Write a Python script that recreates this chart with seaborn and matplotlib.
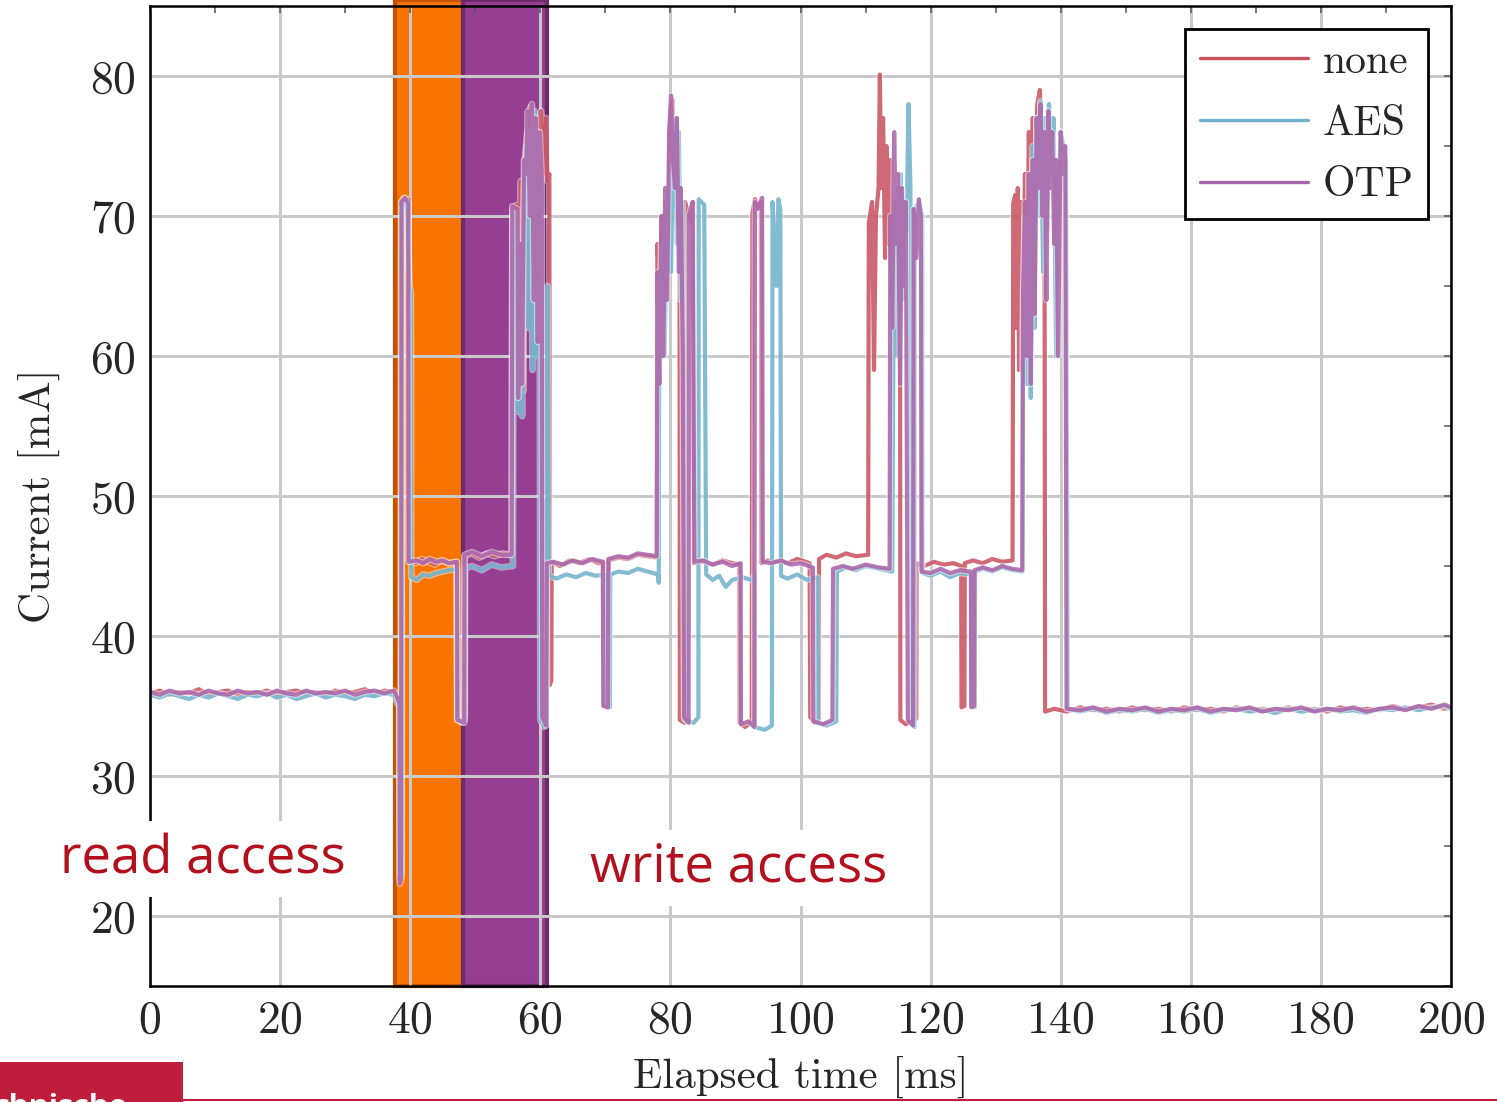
import matplotlib
matplotlib.use("Agg")
import matplotlib.pyplot as plt
import matplotlib.patheffects as pe
from matplotlib.patches import Rectangle
from matplotlib.lines import Line2D
from matplotlib.ticker import MultipleLocator
import pandas as pd
import seaborn as sns

# ---------------- data (time in ms, current in mA) ----------------
series_names = ["none", "AES", "OTP"]

none_trace = [
    (0, 35.9), (1.5, 36.1), (3, 35.8), (4.5, 36.0), (6, 35.9), (7.5, 36.2), (9, 35.8), (10.5, 36.0),
    (12, 36.1), (13.5, 35.8), (15, 36.0), (16.5, 35.9), (18, 36.1), (19.5, 35.8), (21, 36.0), (22.5, 36.1),
    (24, 35.9), (25.5, 36.0), (27, 35.8), (28.5, 36.1), (30, 35.9), (31.5, 36.0), (33, 36.2), (34.5, 35.9),
    (36, 36.1), (37.5, 36.0), (38.0, 35.4), (38.3, 35.1), (38.35, 22.6), (38.6, 23.2), (38.65, 71.0),
    (39.0, 71.3), (39.4, 70.8), (39.75, 71.2), (39.8, 45.4), (40.8, 45.2), (41.8, 45.5), (42.8, 45.3),
    (43.8, 45.1), (44.8, 45.4), (45.8, 45.2), (47.1, 45.3), (47.2, 34.0), (47.8, 33.9), (48.3, 34.3),
    (48.35, 45.7), (49.4, 45.9), (50.6, 45.6), (51.8, 45.9), (53.0, 45.7), (54.2, 45.9), (55.6, 45.8),
    (55.7, 70.6), (56.4, 70.8), (56.5, 58.0), (56.8, 60.5), (57.0, 72.5), (57.4, 57.5), (57.6, 74.0),
    (58.0, 76.0), (58.3, 71.0), (58.5, 77.8), (58.8, 65.0), (59.0, 76.5), (59.3, 62.0), (59.5, 77.0),
    (59.9, 72.0), (60.1, 77.5), (60.5, 73.0), (60.9, 77.0), (61.1, 72.5), (61.4, 73.0), (61.45, 36.5),
    (61.7, 36.8), (61.75, 45.3), (63.0, 45.0), (64.5, 45.4), (66.0, 45.2), (67.5, 45.5), (69.0, 45.2),
    (69.7, 45.3), (69.75, 35.0), (70.5, 35.2), (70.55, 45.4), (72.0, 45.6), (73.5, 45.5), (75.0, 45.8),
    (76.5, 45.7), (77.9, 45.6), (78.0, 68.0), (78.4, 64.0), (78.7, 70.0), (79.0, 61.0), (79.3, 71.0),
    (79.6, 66.0), (80.0, 77.0), (80.3, 78.3), (80.6, 73.0), (80.9, 77.0), (81.2, 71.0), (81.4, 72.0),
    (81.45, 34.0), (82.2, 33.8), (82.25, 71.0), (82.9, 70.0), (83.2, 69.5), (83.5, 71.0), (83.6, 45.2),
    (85.0, 45.3), (86.5, 45.1), (88.0, 45.4), (89.5, 45.2), (90.6, 45.1), (90.65, 33.8), (91.5, 33.5),
    (92.5, 33.9), (92.6, 70.2), (93.0, 71.2), (93.5, 70.6), (93.9, 71.0), (94.0, 45.2), (95.0, 45.4),
    (96.5, 45.3), (98.0, 45.2), (99.5, 45.5), (101.4, 45.2), (101.5, 34.2), (102.2, 33.8), (102.8, 34.0),
    (102.85, 45.5), (104.0, 45.8), (105.5, 45.6), (107.0, 45.9), (108.5, 45.7), (110.4, 45.8),
    (110.5, 69.5), (111.0, 71.0), (111.3, 59.0), (111.6, 70.0), (112.0, 72.0), (112.2, 80.1), (112.4, 72.0),
    (112.7, 77.0), (113.0, 67.0), (113.2, 75.0), (113.5, 68.0), (113.8, 74.0), (114.1, 63.0), (114.4, 70.0),
    (114.8, 60.0), (115.1, 72.0), (115.3, 70.0), (115.35, 34.0), (116.2, 33.7), (117.0, 33.9), (117.8, 34.1),
    (117.85, 45.2), (119.0, 45.0), (120.5, 45.3), (122.0, 45.1), (123.5, 45.2), (124.7, 45.0), (124.75, 34.9),
    (125.2, 35.0), (125.25, 45.2), (126.5, 45.4), (128.0, 45.2), (129.5, 45.5), (131.0, 45.3), (132.6, 45.4),
    (132.7, 70.9), (133.0, 71.5), (133.2, 62.0), (133.4, 72.0), (133.6, 59.0), (133.9, 71.0), (134.2, 60.0),
    (134.5, 73.0), (134.8, 62.0), (135.1, 76.0), (135.4, 67.0), (135.7, 77.0), (136.0, 70.0), (136.4, 78.0),
    (136.8, 79.0), (137.1, 72.0), (137.5, 76.0), (137.6, 34.6), (139.0, 34.8), (141.0, 34.6), (143.0, 34.9),
    (145.0, 34.7), (147.0, 34.8), (149.0, 34.6), (151.0, 34.9), (153.0, 34.7), (155.0, 34.8), (157.0, 34.6),
    (159.0, 34.9), (161.0, 34.7), (163.0, 34.8), (165.0, 34.6), (167.0, 34.9), (169.0, 34.7), (171.0, 34.8),
    (173.0, 34.6), (175.0, 34.9), (177.0, 34.7), (179.0, 34.8), (181.0, 34.6), (183.0, 34.9), (185.0, 34.7),
    (187.0, 34.8), (189.0, 34.7), (191.0, 35.0), (193.0, 34.8), (195.0, 34.9), (197.0, 35.1), (199.0, 34.8),
    (200.0, 34.9),
]

aes_trace = [
    (0, 35.8), (1.5, 35.6), (3, 35.9), (4.5, 35.7), (6, 35.5), (7.5, 35.8), (9, 35.6), (10.5, 35.9),
    (12, 35.7), (13.5, 35.5), (15, 35.8), (16.5, 35.7), (18, 35.9), (19.5, 35.6), (21, 35.8), (22.5, 35.5),
    (24, 35.7), (25.5, 35.9), (27, 35.6), (28.5, 35.8), (30, 35.7), (31.5, 35.5), (33, 35.8), (34.5, 35.7),
    (36, 35.9), (37.5, 35.8), (38.0, 35.2), (38.4, 35.0), (38.45, 23.0), (38.7, 22.8), (38.75, 70.5),
    (39.1, 71.2), (39.5, 70.8), (39.9, 65.0), (40.1, 64.5), (40.15, 44.2), (41.0, 44.0), (42.0, 44.4),
    (43.0, 44.3), (44.0, 44.5), (45.0, 44.6), (46.0, 44.7), (47.2, 44.8), (47.3, 34.1), (48.0, 33.8),
    (48.4, 34.0), (48.45, 44.8), (49.5, 45.0), (51.0, 44.7), (52.5, 45.1), (54.0, 44.9), (55.8, 45.0),
    (55.9, 70.2), (56.3, 68.0), (56.6, 56.0), (56.9, 67.0), (57.2, 55.7), (57.5, 72.0), (57.9, 75.0),
    (58.2, 62.0), (58.5, 76.0), (58.8, 59.0), (59.1, 77.5), (59.4, 60.0), (59.7, 76.0), (59.9, 66.0),
    (60.0, 34.0), (60.6, 33.5), (61.0, 33.8), (61.1, 65.0), (61.3, 44.3), (62.5, 44.1), (64.0, 44.4),
    (65.5, 44.2), (67.0, 44.5), (68.5, 44.3), (70.0, 44.4), (70.05, 35.0), (70.7, 34.9), (70.75, 44.4),
    (72.0, 44.6), (73.5, 44.5), (75.0, 44.8), (76.5, 44.6), (78.1, 44.4), (78.2, 43.8), (78.3, 62.0),
    (78.7, 68.0), (79.1, 60.0), (79.5, 70.0), (79.8, 72.0), (80.1, 66.0), (80.4, 75.0), (80.7, 77.0),
    (81.0, 68.0), (81.3, 76.0), (81.6, 64.0), (81.9, 71.0), (82.2, 34.0), (83.6, 33.8), (84.3, 34.2),
    (84.35, 71.2), (85.2, 70.8), (85.5, 44.4), (86.5, 44.0), (87.5, 44.3), (88.5, 43.5), (89.5, 44.0),
    (91.0, 44.2), (92.5, 44.0), (92.9, 44.3), (93.0, 33.5), (94.5, 33.3), (95.6, 33.6), (95.7, 71.0),
    (96.3, 65.0), (96.6, 71.2), (96.9, 70.5), (97.0, 44.3), (98.0, 44.1), (99.5, 44.4), (101.0, 44.0),
    (102.6, 44.2), (102.7, 33.8), (104.0, 33.6), (105.5, 33.9), (105.6, 44.6), (107.0, 44.9), (108.5, 44.7),
    (110.0, 45.0), (112.0, 44.8), (114.1, 44.6), (114.3, 62.0), (114.6, 71.0), (115.0, 60.0), (115.4, 73.0),
    (115.7, 64.0), (116.0, 71.0), (116.3, 69.0), (116.6, 78.0), (116.9, 72.0), (117.1, 34.0), (117.5, 33.5),
    (117.55, 70.5), (118.2, 71.0), (118.7, 70.0), (118.75, 44.5), (120.0, 44.3), (121.5, 44.6), (123.0, 44.2),
    (124.5, 44.5), (126.2, 44.4), (126.3, 35.0), (126.8, 34.9), (126.85, 44.6), (128.0, 44.8), (129.5, 44.6),
    (131.0, 44.9), (132.5, 44.7), (134.1, 44.6), (134.2, 62.0), (134.5, 70.0), (134.8, 58.0), (135.1, 68.0),
    (135.4, 57.0), (135.7, 75.0), (136.0, 62.0), (136.3, 77.0), (136.6, 70.0), (136.9, 78.2), (137.3, 66.0),
    (137.6, 77.0), (137.9, 69.0), (138.2, 78.0), (138.6, 73.0), (138.9, 77.0), (139.3, 60.0), (139.6, 72.0),
    (140.0, 76.0), (140.4, 75.0), (140.8, 74.0), (141.1, 34.8), (143.0, 34.6), (145.0, 34.8), (147.0, 34.5),
    (149.0, 34.7), (151.0, 34.6), (153.0, 34.8), (155.0, 34.5), (157.0, 34.7), (159.0, 34.6), (161.0, 34.8),
    (163.0, 34.5), (165.0, 34.7), (167.0, 34.8), (169.0, 34.6), (171.0, 34.7), (173.0, 34.5), (175.0, 34.8),
    (177.0, 34.6), (179.0, 34.7), (181.0, 34.8), (183.0, 34.6), (185.0, 34.7), (187.0, 34.5), (189.0, 34.8),
    (191.0, 34.7), (193.0, 34.9), (195.0, 34.7), (197.0, 34.9), (199.0, 35.0), (200.0, 34.8),
]

otp_trace = [
    (0, 36.0), (1.5, 35.8), (3, 36.1), (4.5, 35.9), (6, 36.0), (7.5, 35.8), (9, 36.1), (10.5, 35.9),
    (12, 35.8), (13.5, 36.1), (15, 35.9), (16.5, 36.0), (18, 35.8), (19.5, 36.1), (21, 35.9), (22.5, 35.8),
    (24, 36.1), (25.5, 35.9), (27, 36.0), (28.5, 35.9), (30, 36.1), (31.5, 35.8), (33, 36.0), (34.5, 36.1),
    (36, 35.9), (37.5, 36.1), (38.0, 35.6), (38.35, 35.2), (38.4, 22.3), (38.6, 22.6), (38.65, 71.0),
    (39.2, 71.3), (39.7, 70.9), (39.75, 45.3), (41.0, 45.4), (42.0, 45.2), (43.0, 45.5), (44.0, 45.3),
    (45.0, 45.4), (46.0, 45.2), (47.2, 45.3), (47.25, 34.0), (48.3, 33.8), (48.35, 45.8), (49.5, 46.0),
    (51.0, 45.7), (52.5, 46.0), (54.0, 45.8), (55.6, 45.8), (55.7, 70.7), (56.5, 70.5), (56.6, 57.0),
    (56.9, 68.0), (57.2, 58.0), (57.5, 74.0), (57.8, 73.0), (58.1, 77.5), (58.4, 70.0), (58.7, 78.0),
    (59.0, 64.0), (59.3, 77.0), (59.6, 61.0), (59.9, 76.0), (60.2, 73.0), (60.3, 34.2), (60.9, 33.6),
    (61.0, 45.2), (62.0, 45.3), (63.5, 45.1), (65.0, 45.4), (66.5, 45.2), (68.0, 45.5), (69.6, 45.3),
    (69.7, 35.0), (70.4, 34.9), (70.45, 45.5), (72.0, 45.7), (73.5, 45.6), (75.0, 45.9), (76.5, 45.8),
    (77.9, 45.7), (78.0, 66.0), (78.3, 58.0), (78.6, 70.0), (78.9, 60.0), (79.2, 72.0), (79.5, 64.0),
    (79.8, 76.0), (80.1, 78.6), (80.4, 74.0), (80.7, 72.0), (81.0, 77.0), (81.3, 66.0), (81.6, 72.0),
    (81.9, 60.0), (82.1, 34.2), (82.8, 33.8), (82.85, 70.0), (83.4, 71.0), (83.7, 45.3), (85.0, 45.4),
    (86.5, 45.1), (88.0, 45.3), (89.5, 45.0), (90.8, 45.2), (90.85, 33.7), (92.0, 33.9), (92.9, 33.5),
    (93.0, 71.0), (93.4, 70.5), (94.1, 71.3), (94.2, 45.3), (95.5, 45.2), (97.0, 45.4), (98.5, 45.1),
    (100.0, 45.2), (101.9, 44.9), (102.0, 33.9), (103.5, 33.7), (104.9, 34.0), (105.0, 44.8), (106.5, 45.0),
    (108.0, 44.8), (110.0, 45.1), (112.0, 44.9), (113.7, 44.8), (113.8, 70.0), (114.1, 62.0), (114.4, 76.0),
    (114.7, 68.0), (115.0, 73.0), (115.3, 58.0), (115.6, 72.0), (115.9, 65.0), (116.2, 71.0), (116.5, 34.0),
    (117.3, 33.6), (117.4, 70.5), (117.8, 67.0), (118.2, 71.2), (118.5, 70.0), (118.6, 44.6), (120.0, 44.5),
    (121.5, 44.8), (123.0, 44.5), (124.5, 44.7), (126.2, 44.6), (126.25, 34.9), (126.7, 35.0), (126.75, 44.7),
    (128.0, 44.9), (129.5, 44.7), (131.0, 45.0), (132.5, 44.8), (134.1, 44.7), (134.2, 64.0), (134.5, 71.0),
    (134.8, 60.0), (135.1, 73.0), (135.4, 58.0), (135.7, 74.0), (136.0, 63.0), (136.3, 77.0), (136.6, 72.0),
    (136.9, 78.0), (137.2, 70.0), (137.5, 76.0), (137.8, 64.0), (138.1, 77.5), (138.4, 72.0), (138.7, 76.0),
    (139.0, 68.0), (139.3, 74.0), (139.6, 60.0), (140.0, 76.0), (140.4, 73.0), (140.7, 75.0), (140.9, 34.8),
    (143.0, 34.7), (145.0, 34.9), (147.0, 34.6), (149.0, 34.8), (151.0, 34.7), (153.0, 34.9), (155.0, 34.6),
    (157.0, 34.8), (159.0, 34.7), (161.0, 34.9), (163.0, 34.6), (165.0, 34.8), (167.0, 34.7), (169.0, 34.9),
    (171.0, 34.6), (173.0, 34.8), (175.0, 34.7), (177.0, 34.9), (179.0, 34.6), (181.0, 34.8), (183.0, 34.7),
    (185.0, 34.9), (187.0, 34.6), (189.0, 34.8), (191.0, 34.9), (193.0, 34.7), (195.0, 35.0), (197.0, 34.8),
    (199.0, 35.1), (200.0, 34.9),
]

read_band = (37.6, 48.1)
write_band = (48.1, 61.0)
x_ticks = [0, 20, 40, 60, 80, 100, 120, 140, 160, 180, 200]
y_ticks = [20, 30, 40, 50, 60, 70, 80]

# ---------------- styling ----------------
sns.set_theme(style="white")
plt.rcParams["font.family"] = ["cmr10", "DejaVu Serif"]
plt.rcParams["axes.formatter.use_mathtext"] = True
plt.rcParams["axes.unicode_minus"] = False

palette = {"none": "#c8505f", "AES": "#6fb1cb", "OTP": "#a862a8"}

frames = []
for name, trace in zip(series_names, [none_trace, aes_trace, otp_trace]):
    t, v = zip(*trace)
    frames.append(pd.DataFrame({"t": t, "I": v, "series": name}))
df = pd.concat(frames, ignore_index=True)

fig = plt.figure(figsize=(14.97, 11.02), dpi=100)
ax = fig.add_axes([150 / 1497, 1 - 986 / 1102, 1301 / 1497, 980 / 1102])

# bands
ax.axvspan(*read_band, ymin=0, ymax=1.006, facecolor="#f97300", edgecolor="#c25300",
           lw=3.0, zorder=0.2, clip_on=False)
ax.axvspan(*write_band, ymin=0, ymax=1.006, facecolor="#963e91", edgecolor="#6e2b6a",
           lw=3.0, zorder=0.2, clip_on=False)

sns.lineplot(data=df, x="t", y="I", hue="series", hue_order=series_names, palette=palette,
             estimator=None, sort=False, lw=3.0, alpha=0.86, ax=ax, legend=False)
for ln in ax.lines:
    ln.set_path_effects([pe.Stroke(linewidth=4.8, foreground="white", alpha=0.45), pe.Normal()])

ax.set_xlim(0, 200)
ax.set_ylim(15, 85)
ax.set_xticks(x_ticks)
ax.set_yticks(y_ticks)
ax.xaxis.set_minor_locator(MultipleLocator(10))
ax.yaxis.set_minor_locator(MultipleLocator(5))
ax.grid(True, which="major", color="#c9c9c9", lw=2.2)
ax.set_axisbelow(True)
ax.tick_params(which="both", direction="in", top=True, right=True, length=5, width=1.1,
               color="#555555", labelsize=33, pad=10)
for s in ax.spines.values():
    s.set_color("black")
    s.set_linewidth(1.8)
    s.set_zorder(5)

ax.set_xlabel("Elapsed time [ms]", fontsize=31, labelpad=10)
ax.set_ylabel("Current [mA]", fontsize=31, labelpad=22)

handles = [Line2D([0], [0], color=palette[n], lw=2.4) for n in series_names]
leg = ax.legend(handles, series_names, loc="upper right", fontsize=30, frameon=True,
                fancybox=False, edgecolor="black", facecolor="white", framealpha=1,
                handlelength=2.6, handletextpad=0.35, labelspacing=0.58,
                borderpad=0.35, borderaxespad=0.55)
leg.get_frame().set_linewidth(2.0)
leg.set_zorder(6)

# annotations
fig.text(60 / 1497, 1 - 873 / 1102, "read access", fontsize=38, color="#b3101e",
         family="Open Sans", va="baseline", ha="left",
         bbox=dict(facecolor="white", edgecolor="none", pad=8))
fig.text(590 / 1497, 1 - 882 / 1102, "write access", fontsize=38, color="#b3101e",
         family="Open Sans", va="baseline", ha="left",
         bbox=dict(facecolor="white", edgecolor="none", pad=8))

# footer decoration
fig.patches.append(Rectangle((0, 0), 183 / 1497, 40 / 1102, transform=fig.transFigure,
                             facecolor="#be1d3c", edgecolor="none", zorder=1))
fig.lines.append(Line2D([183 / 1497, 1], [2.5 / 1102, 2.5 / 1102], transform=fig.transFigure,
                        color="#be1d3c", lw=1.5))
fig.text(-6 / 1497, -14 / 1102, "chnische", fontsize=22, color="white", weight="bold",
         family="Open Sans", va="baseline", ha="left")

fig.savefig("out.png", dpi=100)
